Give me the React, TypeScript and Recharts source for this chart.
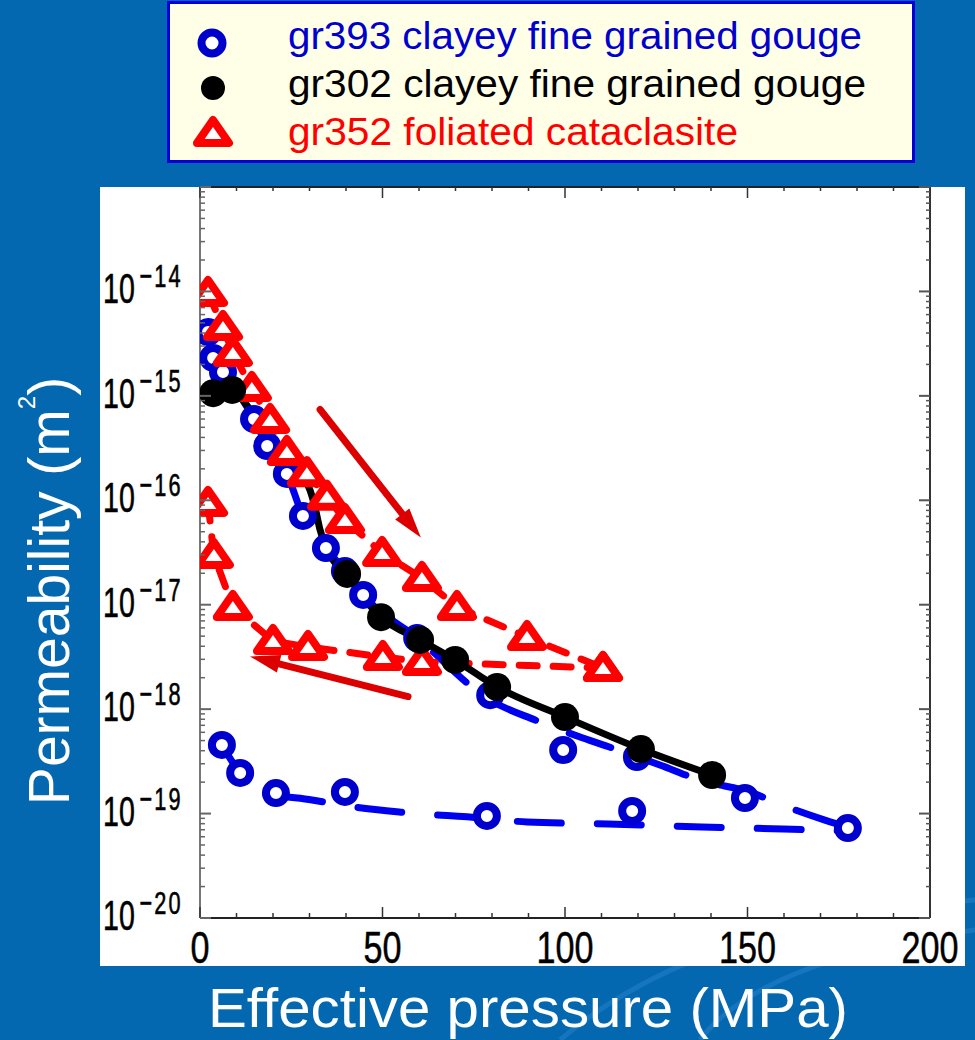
import React from 'react';
import { ComposedChart, Line, Scatter, XAxis, YAxis, ReferenceLine } from 'recharts';

// ---------- data (x = effective pressure MPa, y = permeability m^2) ----------
const gr393Loading: [number, number][] = [
  [2.2, 4.09e-15], [3.6, 2.31e-15], [6.3, 1.69e-15], [14.8, 6.0e-16], [18.4, 3.31e-16],
  [23.8, 1.79e-16], [28.2, 7.08e-17], [34.5, 3.49e-17], [39.7, 2.1e-17], [44.7, 1.24e-17],
  [59.5, 4.8e-18], [79.5, 1.36e-18], [99.5, 4.06e-19], [119.7, 3.48e-19], [149.3, 1.41e-19],
  [177.5, 7.27e-20],
];
const gr393Unloading: [number, number][] = [
  [6.0, 4.54e-19], [11.0, 2.45e-19], [20.8, 1.57e-19], [39.7, 1.61e-19], [78.6, 9.5e-20], [118.4, 1.06e-19],
];
const gr393LoadingFit: [number, number][] = [
  [2.2, 4.09e-15], [3.6, 2.31e-15], [6.3, 1.69e-15], [14.8, 6.0e-16], [18.4, 3.31e-16],
  [23.8, 1.79e-16], [28.2, 7.08e-17], [34.5, 3.49e-17], [39.7, 2.1e-17], [44.7, 1.24e-17],
  [59.5, 4.8e-18], [79.5, 1.22e-18], [91.8, 7.87e-19], [104.9, 5.29e-19], [112.9, 4.25e-19],
  [126.0, 2.92e-19], [137.0, 2.09e-19], [151.5, 1.57e-19], [158.1, 1.26e-19], [171.2, 8.67e-20],
  [177.5, 7.44e-20],
];
const gr393UnloadingFit: [number, number][] = [
  [6.0, 4.54e-19], [11.0, 2.45e-19], [17.0, 1.61e-19], [30.7, 1.35e-19], [41.9, 1.16e-19],
  [55.3, 1.03e-19], [77.5, 9.06e-20], [89.6, 8.3e-20], [111.8, 7.95e-20], [137.5, 7.44e-20],
  [159.7, 7.11e-20], [177.5, 6.8e-20],
];
const gr302Points: [number, number][] = [
  [3.6, 1.06e-15], [8.8, 1.14e-15], [40.3, 1.97e-17], [49.6, 7.6e-18], [60.3, 4.6e-18],
  [69.9, 2.96e-18], [81.4, 1.63e-18], [100.0, 8.4e-19], [120.8, 4.15e-19], [140.3, 2.34e-19],
];
const gr302Curve: [number, number][] = [
  [3.6, 1.06e-15], [8.8, 1.14e-15], [11.0, 9.75e-16], [15.6, 5.9e-16], [20.0, 3.54e-16],
  [24.7, 2.18e-16], [28.2, 1.67e-16], [30.1, 1.26e-16], [31.5, 8.6e-17], [32.9, 5.2e-17],
  [34.8, 3.34e-17], [37.5, 2.4e-17], [40.3, 1.97e-17], [43.8, 1.29e-17], [49.6, 7.6e-18],
  [60.3, 4.6e-18], [69.9, 2.96e-18], [81.4, 1.63e-18], [100.0, 8.4e-19], [120.8, 4.15e-19],
  [140.3, 2.34e-19],
];
const gr352Loading: [number, number][] = [
  [2.2, 9.66e-15], [6.3, 4.56e-15], [9.0, 2.57e-15], [14.2, 1.19e-15], [19.2, 5.87e-16],
  [23.8, 2.9e-16], [29.3, 1.82e-16], [34.8, 1.08e-16], [39.7, 6.48e-17], [49.9, 3.13e-17],
  [60.8, 1.8e-17], [70.4, 9.5e-18], [89.6, 4.91e-18], [110.4, 2.48e-18],
];
const gr352Unloading: [number, number][] = [
  [2.2, 9.42e-17], [3.8, 2.99e-17], [9.0, 9.5e-18], [20.0, 4.5e-18], [29.6, 3.94e-18],
  [50.1, 3.16e-18], [60.8, 2.83e-18], [110.4, 2.48e-18],
];
const arrowLoading: [number, number][] = [[32.9, 7.4e-16], [60.5, 4.4e-17]];
const arrowUnloading: [number, number][] = [[57.0, 1.32e-18], [13.7, 3.2e-18]];

const xTicks = [0, 10, 20, 30, 40, 50, 60, 70, 80, 90, 100, 110, 120, 130, 140, 150, 160, 170, 180, 190, 200];
const xLabelTicks = [0, 50, 100, 150, 200];
const yExponents = [-20, -19, -18, -17, -16, -15, -14, -13];
const yMantissas = [1, 2, 3, 4, 5, 6, 7, 8, 9];
const legendLabels = [
  'gr393 clayey fine grained gouge',
  'gr302 clayey fine grained gouge',
  'gr352 foliated cataclasite',
];

// ---------- helpers ----------
const toPts = (a: [number, number][]) => a.map(([x, y]) => ({ x, y }));
const yTicks: number[] = [];
yExponents.forEach((e) => {
  yMantissas.forEach((m) => {
    if (e === -13 && m > 1) return;
    yTicks.push(m * Math.pow(10, e));
  });
});

const BLUE = '#0000CC';
const BLUE_LINE = '#0000F0';
const RED = '#FF0000';
const ARROW_RED = '#DC0000';
const NARROW = "'Liberation Sans Narrow', 'Liberation Sans', Arial, sans-serif";
const SANS = "'Liberation Sans', Arial, Helvetica, sans-serif";

const isMajorY = (v: number) => {
  const e = Math.round(Math.log10(v));
  return { e, major: Math.abs(v / Math.pow(10, e) - 1) < 1e-6 };
};

const LeftTick = (props: any) => {
  const { x, y, payload } = props;
  const { e, major } = isMajorY(payload.value);
  return (
    <g>
      <line x1={x} y1={y} x2={x + (major ? 11 : 5)} y2={y} stroke="#666" strokeWidth={major ? 2 : 1.5} />
      {major && e <= -14 && (
        <text transform={`translate(${x - 97},${y + 12}) scale(0.68,1)`} fill="#000" stroke="#000"
          strokeWidth={0.6} fontFamily={SANS} fontSize={42}>
          10
          <tspan dx={7} dy={-16} fontSize={32} letterSpacing={3}>{`\u2212${-e}`}</tspan>
        </text>
      )}
    </g>
  );
};
const RightTick = (props: any) => {
  const { x, y, payload } = props;
  const { major } = isMajorY(payload.value);
  return <line x1={x} y1={y} x2={x - (major ? 11 : 4)} y2={y} stroke="#555" strokeWidth={major ? 2 : 1.5} />;
};
const BottomTick = (props: any) => {
  const { x, y, payload } = props;
  const v = payload.value as number;
  const major = xLabelTicks.includes(v);
  const s = String(v);
  return (
    <g>
      <line x1={x} y1={y} x2={x} y2={y - (major ? 11 : 5)} stroke="#333" strokeWidth={1.5} />
      {major && (
        <text x={x} y={y + 45} textAnchor="middle" fontSize={44} fontFamily={NARROW} fill="#000" stroke="#000"
          strokeWidth={0.5} textLength={s.length * 19} lengthAdjust="spacingAndGlyphs">{s}</text>
      )}
    </g>
  );
};
const TopTick = (props: any) => {
  const { x, y, payload } = props;
  const major = xLabelTicks.includes(payload.value);
  return <line x1={x} y1={y} x2={x} y2={y + (major ? 11 : 4)} stroke="#333" strokeWidth={1.5} />;
};

const Ring = ({ cx, cy }: any) => (
  <circle cx={cx} cy={cy} r={10} fill="#fff" stroke={BLUE} strokeWidth={8} />
);
const Dot = ({ cx, cy }: any) => <circle cx={cx} cy={cy} r={14} fill="#000" />;
const Tri = ({ cx, cy }: any) =>
  cx == null || cy == null ? null : (
    <path d={`M${cx},${cy - 13} L${cx + 16},${cy + 10} L${cx - 16},${cy + 10} Z`} fill="#fff" stroke={RED}
      strokeWidth={8} strokeLinejoin="round" />
  );

const Arrow = (p: any) => {
  const { x1, y1, x2, y2 } = p;
  const ang = Math.atan2(y2 - y1, x2 - x1);
  const L = 30;
  const W = 9;
  const bx = x2 - L * Math.cos(ang);
  const by = y2 - L * Math.sin(ang);
  const px = -Math.sin(ang) * W;
  const py = Math.cos(ang) * W;
  return (
    <g>
      <line x1={x1} y1={y1} x2={bx} y2={by} stroke={ARROW_RED} strokeWidth={7} strokeLinecap="round" />
      <polygon points={`${x2},${y2} ${bx + px},${by + py} ${bx - px},${by - py}`} fill={ARROW_RED} />
    </g>
  );
};

export default function App() {
  return (
    <div style={{ position: 'absolute', left: 0, top: 0, width: 975, height: 1040, background: '#0468B0', overflow: 'hidden' }}>
      <svg width={975} height={1040} style={{ position: 'absolute', left: 0, top: 0 }}>
        <g fill="none" stroke="#2A86D0" strokeOpacity={0.45} strokeWidth={5}>
          <path d="M 700 1040 Q 760 960 975 930" />
          <path d="M 560 1040 Q 700 920 975 900" />
        </g>
        <rect x={100} y={187} width={865} height={779} fill="#fff" />
        {/* legend */}
        <rect x={168.5} y={2.5} width={745} height={159} fill="#FFFFE8" stroke="#0000DD" strokeWidth={3} />
        <circle cx={212} cy={43} r={10.5} fill="#fff" stroke={BLUE} strokeWidth={8} />
        <circle cx={213} cy={88} r={12} fill="#000" />
        <path d="M213,120 L229,143 L197,143 Z" fill="#fff" stroke={RED} strokeWidth={8} strokeLinejoin="round" />
        <g fontFamily={SANS} fontSize={38}>
          <text x={288} y={49} fill={BLUE} textLength={574} lengthAdjust="spacingAndGlyphs">{legendLabels[0]}</text>
          <text x={288} y={97} fill="#000" textLength={578} lengthAdjust="spacingAndGlyphs">{legendLabels[1]}</text>
          <text x={288} y={145} fill={RED} textLength={450} lengthAdjust="spacingAndGlyphs">{legendLabels[2]}</text>
        </g>
        {/* axis titles */}
        <text x={528} y={1027} textAnchor="middle" fontFamily={SANS} fontSize={56} fill="#fff"
          textLength={640} lengthAdjust="spacingAndGlyphs">Effective pressure (MPa)</text>
        <text transform="translate(69,591) rotate(-90)" textAnchor="middle" fontFamily={SANS} fontSize={57} fill="#fff">
          Permeability (m<tspan dy={-34} fontSize={24}>2</tspan><tspan dy={34}>)</tspan>
        </text>
      </svg>
      <div style={{ position: 'absolute', left: 0, top: 0 }}>
        <ComposedChart width={975} height={1040} margin={{ top: 186, right: 35, bottom: 62, left: 100 }}>
          <XAxis xAxisId="b" dataKey="x" type="number" domain={[0, 200]} ticks={xTicks} interval={0}
            allowDataOverflow orientation="bottom" height={60} tickSize={0} tickMargin={0} tickLine={false}
            axisLine={{ stroke: '#222', strokeWidth: 2 }} tick={<BottomTick />} />
          <XAxis xAxisId="t" dataKey="x" type="number" domain={[0, 200]} ticks={xTicks} interval={0}
            allowDataOverflow orientation="top" height={1} tickSize={0} tickMargin={0} tickLine={false}
            axisLine={{ stroke: '#222', strokeWidth: 2 }} tick={<TopTick />} />
          <YAxis yAxisId="l" dataKey="y" type="number" scale="log" domain={[1e-20, 1e-13]} ticks={yTicks}
            interval={0} allowDataOverflow orientation="left" width={100} tickSize={0} tickMargin={0}
            tickLine={false} axisLine={{ stroke: '#777', strokeWidth: 2 }} tick={<LeftTick />} />
          <YAxis yAxisId="r" dataKey="y" type="number" scale="log" domain={[1e-20, 1e-13]} ticks={yTicks}
            interval={0} allowDataOverflow orientation="right" width={10} tickSize={0} tickMargin={0}
            tickLine={false} axisLine={{ stroke: '#333', strokeWidth: 2 }} tick={<RightTick />} />

          <Line xAxisId="b" yAxisId="l" data={toPts(gr393LoadingFit)} dataKey="y" type="monotone" stroke={BLUE_LINE}
            strokeWidth={7} strokeDasharray="44 36" strokeLinecap="round" dot={false} activeDot={false}
            isAnimationActive={false} />
          <Line xAxisId="b" yAxisId="l" data={toPts(gr393UnloadingFit)} dataKey="y" type="monotone" stroke={BLUE_LINE}
            strokeWidth={7} strokeDasharray="44 36" strokeLinecap="round" dot={false} activeDot={false}
            isAnimationActive={false} />
          <Scatter xAxisId="b" yAxisId="l" data={toPts(gr393Loading)} dataKey="y" shape={<Ring />}
            isAnimationActive={false} />
          <Scatter xAxisId="b" yAxisId="l" data={toPts(gr393Unloading)} dataKey="y" shape={<Ring />}
            isAnimationActive={false} />
          <Line xAxisId="b" yAxisId="l" data={toPts(gr352Unloading)} dataKey="y" type="linear" stroke={RED}
            strokeWidth={7} strokeDasharray="18 16" strokeLinecap="round" dot={<Tri />} activeDot={false}
            isAnimationActive={false} />
          <Line xAxisId="b" yAxisId="l" data={toPts(gr352Loading)} dataKey="y" type="linear" stroke={RED}
            strokeWidth={7} strokeDasharray="18 16" strokeLinecap="round" dot={<Tri />} activeDot={false}
            isAnimationActive={false} />
          <Line xAxisId="b" yAxisId="l" data={toPts(gr302Curve)} dataKey="y" type="monotone" stroke="#000"
            strokeWidth={7} dot={false} activeDot={false} isAnimationActive={false} />
          <Scatter xAxisId="b" yAxisId="l" data={toPts(gr302Points)} dataKey="y" shape={<Dot />}
            isAnimationActive={false} />

          <ReferenceLine xAxisId="b" yAxisId="l" ifOverflow="visible"
            segment={toPts(arrowLoading)} shape={<Arrow />} />
          <ReferenceLine xAxisId="b" yAxisId="l" ifOverflow="visible"
            segment={toPts(arrowUnloading)} shape={<Arrow />} />
        </ComposedChart>
      </div>
    </div>
  );
}
